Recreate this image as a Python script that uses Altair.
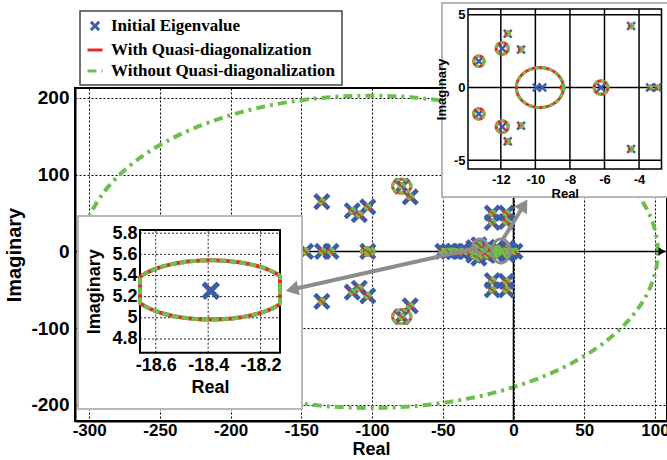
import altair as alt
import numpy as np
import pandas as pd

# ------------------------------------------------------------------ data
SERIES = ["Initial Eigenvalue", "With Quasi-diagonalization", "Without Quasi-diagonalization"]
SERIES_COLORS = ["#3b5ca8", "#e8282c", "#6dbf4b"]

# eigenvalues seen at the scale of the main plot (real, imaginary)
main_re = [-135.5, -114, -109, -103, -79, -73,
           -135.5, -114, -109, -103, -79, -73,
           -147, -135, -129, -103,
           -15, -5, -15, -5,
           -15, -5, -15, -5,
           -50, -46, -42, -37, -33, -28, -23, -2, 1,
           -28, -28, -24.5, -24.5]
main_im = [65, 53, 48, 58, 85, 71,
           -65, -53, -48, -58, -85, -71,
           0, 0, 0, 0,
           50, 50, 38, 39,
           -50, -50, -38, -39,
           0, 0, 0, 0, 0, 0, 0, 0, 0,
           5, -5, 8.7, -8.7]

# eigenvalues of the upper-right zoom
in1_re = [-13.27, -13.27, -11.92, -11.92, -11.6, -11.6, -10.83, -10.83,
          -4.46, -4.46, -9.92, -9.6, -6.2, -3.36, -2.93]
in1_im = [1.81, -1.81, 2.69, -2.69, 3.7, -3.7, 2.62, -2.62,
          4.23, -4.23, 0, 0, 0, 0, 0]

# eigenvalue pair of the left zoom
in2_re = [-18.39, -18.39]
in2_im = [5.255, -5.255]

# trajectories: (centre re, centre im, half-width, half-height)
wo_big = ([-101.5], [-0.5], [203.5], [203.5])
main_traj = ([-79, -79, -103, -45], [85, -85, 0, 0], [6.5, 6.5, 4.5, 7.0], [9, 9, 5, 3])
main_blob_rx, main_blob_ry = 1.8, 3.0
in1_traj = ([-13.27, -13.27, -11.92, -11.92, -9.74, -6.2, -11.6, -11.6, -10.83, -10.83,
             -4.46, -4.46, -3.36, -2.93, -8.42],
            [1.81, -1.81, 2.69, -2.69, 0, 0, 3.7, -3.7, 2.62, -2.62, 4.23, -4.23, 0, 0, 0],
            [0.30, 0.30, 0.35, 0.35, 1.36, 0.40, 0.10, 0.10, 0.10, 0.10, 0.10, 0.10, 0.08, 0.08, 0.10],
            [0.36, 0.36, 0.40, 0.40, 1.37, 0.46, 0.12, 0.12, 0.12, 0.12, 0.12, 0.12, 0.10, 0.10, 0.14])
in2_traj = ([-18.39], [5.2635], [0.30], [0.28])

# ticks
main_xticks = [-300, -250, -200, -150, -100, -50, 0, 50, 100]
main_yticks = [-200, -100, 0, 100, 200]
in1_xticks = [-12, -10, -8, -6, -4]
in1_yticks = [-5, 0, 5]
in2_xticks = [-18.6, -18.4, -18.2]
in2_yticks = [4.8, 5, 5.2, 5.4, 5.6, 5.8]

# gray call-outs (main plot coordinates)
callout_traj = ([-23.7, -8.9], [7.1, 0.6], [4.95, 6.4], [9.1, 15.6])
arrow_x0 = [-25.8, -7.4]
arrow_y0 = [4.5, 16.2]
arrow_x1 = [-156.6, 7.4]
arrow_y1 = [-49.6, 60.5]

# ------------------------------------------------------------------ layout
W, H = 592, 333
MAIN_X = [-310, 108.5]
MAIN_Y = [-221, 213]
IN1_X = [-13.9, -2.7]
IN1_Y = [-5.6, 5.4]
IN1_PX = [393, 586.5]
IN1_PY = [81, -79]
IN2_X = [-18.66, -18.126]
IN2_Y = [4.67, 5.83]
IN2_PX = [65, 205]
IN2_PY = [264.7, 142]
PANEL_X0 = [442, 78]
PANEL_X1 = [700, 302]
PANEL_Y0 = [3, 216]
PANEL_Y1 = [197, 409]

SANS = "Liberation Sans, Arial, Helvetica, sans-serif"
SERIF = "Liberation Serif, Times New Roman, serif"
XPATH = "M-0.55,-0.55L0.55,0.55M-0.55,0.55L0.55,-0.55"
GRAY = "#8c8c8c"


def traj_df(spec, series, tag, n=60):
    cx, cy, rx, ry = spec
    t = np.linspace(0, 2 * np.pi, n)
    frames = []
    for i in range(len(cx)):
        frames.append(pd.DataFrame({
            "x": cx[i] + rx[i] * np.cos(t), "y": cy[i] + ry[i] * np.sin(t),
            "id": f"{tag}{i}", "k": np.arange(n), "series": series}))
    return pd.concat(frames, ignore_index=True)


def scale(domain, rng=None, clamp=False):
    kw = dict(domain=domain, nice=False, zero=False)
    if rng is not None:
        kw["range"] = rng
    if clamp:
        kw["clamp"] = True
    return alt.Scale(**kw)


LEG = alt.Legend(title=None, orient="none", legendX=5, legendY=-77, fillColor="white",
                 strokeColor="#444444", padding=6, rowPadding=4, labelFont=SERIF,
                 labelFontSize=17, labelFontWeight="bold", labelColor="black",
                 symbolSize=225, symbolStrokeWidth=3, labelOffset=7, labelLimit=400)
color = alt.Color("series:N", scale=alt.Scale(domain=SERIES, range=SERIES_COLORS), legend=LEG)
shape = alt.Shape("series:N", scale=alt.Scale(domain=SERIES, range=[XPATH, "stroke", "stroke"]), legend=LEG)
dash = alt.StrokeDash("series:N", scale=alt.Scale(domain=SERIES, range=[[1, 0], [1, 0], [9, 5, 3, 5]]), legend=LEG)

common_ax = dict(labelFont=SANS, labelFontWeight="bold", labelColor="black", titleFont=SANS,
                 titleFontWeight="bold", titleColor="black", labelFlush=False, ticks=False,
                 labelExpr="toString(datum.value)")

ax_main_x = alt.Axis(values=main_xticks, title="Real", grid=True, gridColor="black", gridDash=[2, 2],
                     gridWidth=1, domainColor="black", domainWidth=2, labelFontSize=17, labelPadding=1,
                     titleFontSize=18, titlePadding=2, **common_ax)
ax_main_y = alt.Axis(values=main_yticks, title="Imaginary", grid=True, gridColor="black", gridDash=[2, 2],
                     gridWidth=1, domainColor="black", domainWidth=2, labelFontSize=19, labelPadding=6,
                     titleFontSize=20, titlePadding=6, **common_ax)

mx = scale(MAIN_X)
my = scale(MAIN_Y)

all_re = main_re + in1_re + in2_re
all_im = main_im + in1_im + in2_im
pts_main = pd.DataFrame({"x": all_re, "y": all_im, "series": SERIES[0]})
blob_spec = (all_re, all_im, [main_blob_rx] * len(all_re), [main_blob_ry] * len(all_re))

layers = []

# main: big trajectory (without), carries main axes
layers.append(alt.Chart(traj_df(wo_big, SERIES[2], "big", 300)).mark_line(strokeWidth=4).encode(
    x=alt.X("x:Q", scale=mx, axis=ax_main_x), y=alt.Y("y:Q", scale=my, axis=ax_main_y),
    color=color, strokeDash=dash, detail="id:N", order=alt.Order("k:Q")))
# zero lines
layers.append(alt.Chart(pd.DataFrame({"x": [0]})).mark_rule(color="black", strokeWidth=1.6).encode(
    x=alt.X("x:Q", scale=mx, axis=None)))
layers.append(alt.Chart(pd.DataFrame({"y": [0]})).mark_rule(color="black", strokeWidth=1.6).encode(
    y=alt.Y("y:Q", scale=my, axis=None)))
layers.append(alt.Chart(pd.DataFrame({"x": [105], "y": [0]})).mark_point(
    shape="triangle-right", filled=True, color="black", size=70, opacity=1).encode(
    x=alt.X("x:Q", scale=mx, axis=None), y=alt.Y("y:Q", scale=my, axis=None)))
# main eigenvalues
layers.append(alt.Chart(pts_main).mark_point(filled=False, size=650, strokeWidth=4.5, opacity=1).encode(
    x=alt.X("x:Q", scale=mx, axis=None), y=alt.Y("y:Q", scale=my, axis=None), color=color, shape=shape))
# main small trajectories
main_red = pd.concat([traj_df(blob_spec, SERIES[1], "b", 24), traj_df(main_traj, SERIES[1], "t", 50)])
main_grn = pd.concat([traj_df(blob_spec, SERIES[2], "b", 24), traj_df(main_traj, SERIES[2], "t", 50)])
layers.append(alt.Chart(main_red).mark_line(strokeWidth=3).encode(
    x=alt.X("x:Q", scale=mx, axis=None), y=alt.Y("y:Q", scale=my, axis=None),
    color=color, detail="id:N", order=alt.Order("k:Q")))
layers.append(alt.Chart(main_grn).mark_line(strokeWidth=3, strokeDash=[5, 2]).encode(
    x=alt.X("x:Q", scale=mx, axis=None), y=alt.Y("y:Q", scale=my, axis=None),
    color=color, detail="id:N", order=alt.Order("k:Q")))

# white panels behind zooms (page pixels)
px = scale([0, 667], [-75, 592])
py = scale([0, 460], [-88, 372])
layers.append(alt.Chart(pd.DataFrame({"x0": PANEL_X0, "x1": PANEL_X1, "y0": PANEL_Y0, "y1": PANEL_Y1}))
              .mark_rect(fill="white", stroke="#b8b8b8", strokeWidth=2).encode(
    x=alt.X("x0:Q", scale=px, axis=None), x2="x1:Q",
    y=alt.Y("y0:Q", scale=py, axis=None), y2="y1:Q"))


def inset(xd, yd, xr, yr, xt, yt, fs, grid_style, frame_w, clamp, tpad_x, tpad_y):
    sx = scale(xd, xr, clamp)
    sy = scale(yd, yr, clamp)
    out = []
    gx = pd.DataFrame({"v": xt, "lo": yd[0], "hi": yd[1]})
    gy = pd.DataFrame({"v": yt, "lo": xd[0], "hi": xd[1]})
    out.append(alt.Chart(gx).mark_rule(**grid_style).encode(
        x=alt.X("v:Q", scale=sx, axis=None), y=alt.Y("lo:Q", scale=sy, axis=None), y2="hi:Q"))
    out.append(alt.Chart(gy).mark_rule(**grid_style).encode(
        y=alt.Y("v:Q", scale=sy, axis=None), x=alt.X("lo:Q", scale=sx, axis=None), x2="hi:Q"))
    axx = alt.Axis(orient="bottom", offset=-(H - yr[0]), values=xt, title="Real",
                   domain=False, grid=False, labelFontSize=fs, titleFontSize=fs, labelPadding=4,
                   titlePadding=tpad_x, zindex=1, **common_ax)
    axy = alt.Axis(orient="left", offset=-xr[0], values=yt, title="Imaginary",
                   domain=False, grid=False, labelFontSize=fs, titleFontSize=fs, labelPadding=3,
                   titlePadding=tpad_y, zindex=1, **common_ax)
    fr = pd.DataFrame({"x0": [xd[0]], "x1": [xd[1]], "y0": [yd[0]], "y1": [yd[1]]})
    out.append(alt.Chart(fr).mark_rect(fillOpacity=0, stroke="black", strokeWidth=frame_w).encode(
        x=alt.X("x0:Q", scale=sx, axis=axx), x2="x1:Q",
        y=alt.Y("y0:Q", scale=sy, axis=axy), y2="y1:Q"))
    return sx, sy, out


# inset 1
sx1, sy1, l1 = inset(IN1_X, IN1_Y, IN1_PX, IN1_PY, in1_xticks, in1_yticks, 13,
                     dict(color="black", strokeWidth=1.5), 1.5, False, 1, 5)
layers += l1
layers.append(alt.Chart(pd.DataFrame({"x": in1_re, "y": in1_im, "series": SERIES[0]}))
              .mark_point(filled=False, size=200, strokeWidth=2.5, opacity=1).encode(
    x=alt.X("x:Q", scale=sx1, axis=None), y=alt.Y("y:Q", scale=sy1, axis=None), color=color, shape=shape))
layers.append(alt.Chart(traj_df(in1_traj, SERIES[1], "i1", 80)).mark_line(strokeWidth=3).encode(
    x=alt.X("x:Q", scale=sx1, axis=None), y=alt.Y("y:Q", scale=sy1, axis=None),
    color=color, detail="id:N", order=alt.Order("k:Q")))
layers.append(alt.Chart(traj_df(in1_traj, SERIES[2], "i1", 80)).mark_line(strokeWidth=3, strokeDash=[4, 3]).encode(
    x=alt.X("x:Q", scale=sx1, axis=None), y=alt.Y("y:Q", scale=sy1, axis=None),
    color=color, detail="id:N", order=alt.Order("k:Q")))

# inset 2
sx2, sy2, l2 = inset(IN2_X, IN2_Y, IN2_PX, IN2_PY, in2_xticks, in2_yticks, 18,
                     dict(color="#222222", strokeWidth=1, strokeDash=[2, 2]), 2, True, 4, 8)
layers += l2
layers.append(alt.Chart(pd.DataFrame({"x": in2_re[:1], "y": in2_im[:1], "series": SERIES[0]}))
              .mark_point(filled=False, size=745, strokeWidth=5, opacity=1).encode(
    x=alt.X("x:Q", scale=sx2, axis=None), y=alt.Y("y:Q", scale=sy2, axis=None), color=color, shape=shape))
layers.append(alt.Chart(traj_df(in2_traj, SERIES[1], "i2", 200)).mark_line(strokeWidth=4).encode(
    x=alt.X("x:Q", scale=sx2, axis=None), y=alt.Y("y:Q", scale=sy2, axis=None),
    color=color, detail="id:N", order=alt.Order("k:Q")))
layers.append(alt.Chart(traj_df(in2_traj, SERIES[2], "i2", 200)).mark_line(strokeWidth=4, strokeDash=[7, 3]).encode(
    x=alt.X("x:Q", scale=sx2, axis=None), y=alt.Y("y:Q", scale=sy2, axis=None),
    color=color, detail="id:N", order=alt.Order("k:Q")))

# gray call-outs and arrows (main coordinates)
kx = W / (MAIN_X[1] - MAIN_X[0])
ky = H / (MAIN_Y[1] - MAIN_Y[0])
ang = [(np.degrees(np.arctan2((x1 - x0) * kx, (y1 - y0) * ky)) + 360) % 360
       for x0, y0, x1, y1 in zip(arrow_x0, arrow_y0, arrow_x1, arrow_y1)]
arr = pd.DataFrame({"x0": arrow_x0, "y0": arrow_y0, "x1": arrow_x1, "y1": arrow_y1, "ang": ang})
layers.append(alt.Chart(traj_df(callout_traj, "c", "c", 60)).mark_line(color=GRAY, strokeWidth=3).encode(
    x=alt.X("x:Q", scale=mx, axis=None), y=alt.Y("y:Q", scale=my, axis=None),
    detail="id:N", order=alt.Order("k:Q")))
layers.append(alt.Chart(arr).mark_rule(color=GRAY, strokeWidth=4).encode(
    x=alt.X("x0:Q", scale=mx, axis=None), y=alt.Y("y0:Q", scale=my, axis=None), x2="x1:Q", y2="y1:Q"))
layers.append(alt.Chart(arr).mark_point(shape="triangle-up", filled=True, color=GRAY, size=220, opacity=1).encode(
    x=alt.X("x1:Q", scale=mx, axis=None), y=alt.Y("y1:Q", scale=my, axis=None),
    angle=alt.Angle("ang:Q", scale=None)))

chart = alt.layer(*layers).resolve_scale(x="independent", y="independent").properties(
    width=W, height=H, padding={"left": 75, "top": 88, "right": 0, "bottom": 39},
    autosize=alt.AutoSizeParams(type="none"), background="white"
).configure_view(stroke="black", strokeWidth=2).configure_legend(strokeWidth=1.5)

chart.save("out.html", embed_options={"renderer": "svg", "actions": False})
